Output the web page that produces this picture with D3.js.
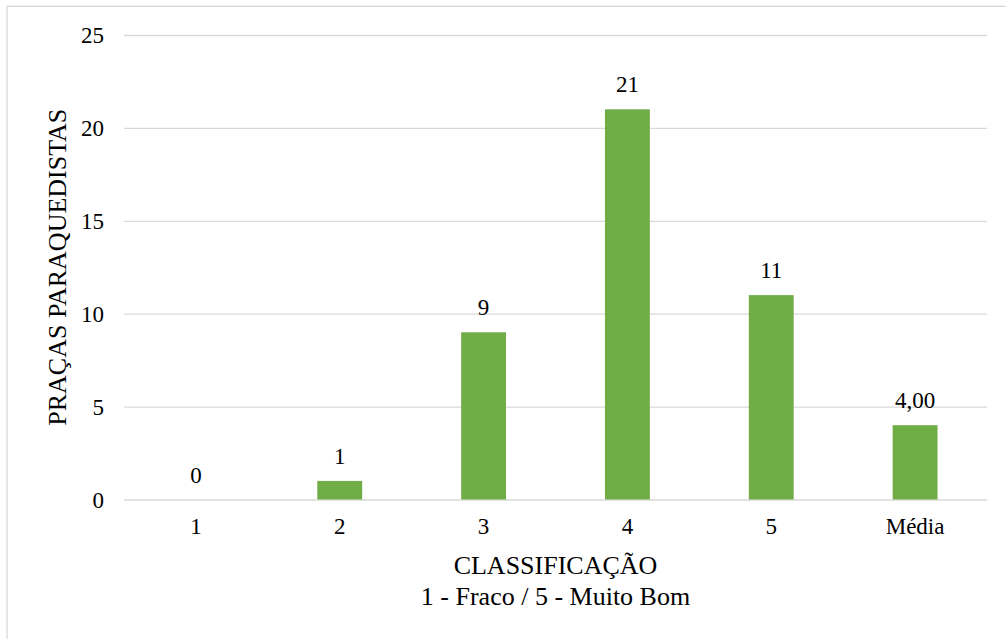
<!DOCTYPE html>
<html>
<head>
<meta charset="utf-8">
<script src="https://cdn.jsdelivr.net/npm/d3@7"></script>
<style>
  html, body { margin: 0; padding: 0; background: #fff; }
  svg { display: block; }
  svg text { font-family: "Liberation Serif", Tinos, "Times New Roman", Times, "DejaVu Serif", serif !important; fill: #000; }
</style>
</head>
<body>
<svg id="chart" width="1006" height="639"></svg>
<script>
const categories = ["1", "2", "3", "4", "5", "Média"];
const values = [0, 1, 9, 21, 11, 4];
const valueLabels = ["0", "1", "9", "21", "11", "4,00"];
const yTicks = [0, 5, 10, 15, 20, 25];
const yTitle = "PRAÇAS PARAQUEDISTAS";
const xTitleLines = ["CLASSIFICAÇÃO", "1 - Fraco / 5 - Muito Bom"];

const FONT = '"Liberation Serif", Tinos, "Times New Roman", Times, "DejaVu Serif", serif';
const svg = d3.select("#chart");
const W = 1006, H = 639;
const plotLeft = 124, plotRight = 987, plotTop = 35, plotBottom = 499.5;

// outer frame (left and top visible, extends beyond canvas)
svg.append("rect")
  .attr("x", 7).attr("y", 6.3)
  .attr("width", W + 10).attr("height", H + 10)
  .attr("fill", "none").attr("stroke", "#d9d9d9").attr("stroke-width", 1.3);

const x = d3.scaleBand().domain(categories).range([plotLeft, plotRight]).paddingInner(0.688).paddingOuter(0.344);
const y = d3.scaleLinear().domain([0, 25]).range([plotBottom, plotTop]);

// gridlines + y tick labels
const yAxis = d3.axisLeft(y).tickValues(yTicks).tickSize(-(plotRight - plotLeft)).tickPadding(20).tickFormat(d3.format("d"));
const gy = svg.append("g").attr("transform", `translate(${plotLeft},0)`).call(yAxis)
  .attr("font-family", FONT).attr("font-size", 23);
gy.select(".domain").remove();
gy.selectAll(".tick line").attr("stroke", "#d9d9d9").attr("stroke-width", 1.3);
gy.selectAll(".tick text").attr("fill", "#000").attr("dy", "0.34em");

// x axis labels
const xAxis = d3.axisBottom(x).tickSize(0).tickPadding(20);
const gx = svg.append("g").attr("transform", `translate(0,${plotBottom})`).call(xAxis)
  .attr("font-family", FONT).attr("font-size", 23);
gx.select(".domain").remove();
gx.selectAll(".tick text").attr("fill", "#000").attr("dy", "0.65em");

// bars
svg.append("g").selectAll("rect").data(values).join("rect")
  .attr("x", (d, i) => x(categories[i]))
  .attr("y", d => y(d))
  .attr("width", x.bandwidth())
  .attr("height", d => y(0) - y(d))
  .attr("fill", "#70ad47");

// data labels
svg.append("g").attr("font-family", FONT).selectAll("text").data(values).join("text")
  .attr("x", (d, i) => x(categories[i]) + x.bandwidth() / 2)
  .attr("y", d => y(d) - 17)
  .attr("text-anchor", "middle")
  .attr("font-size", 23)
  .text((d, i) => valueLabels[i]);

// y title
svg.append("text")
  .attr("font-family", FONT)
  .attr("transform", `translate(66,${(plotTop + plotBottom) / 2}) rotate(-90)`)
  .attr("text-anchor", "middle")
  .attr("font-size", 26)
  .text(yTitle);

// x title
svg.append("text")
  .attr("font-family", FONT)
  .attr("text-anchor", "middle")
  .attr("font-size", 26)
  .selectAll("tspan").data(xTitleLines).join("tspan")
  .attr("x", (plotLeft + plotRight) / 2)
  .attr("y", (d, i) => 574 + i * 31)
  .text(d => d);
</script>
</body>
</html>
